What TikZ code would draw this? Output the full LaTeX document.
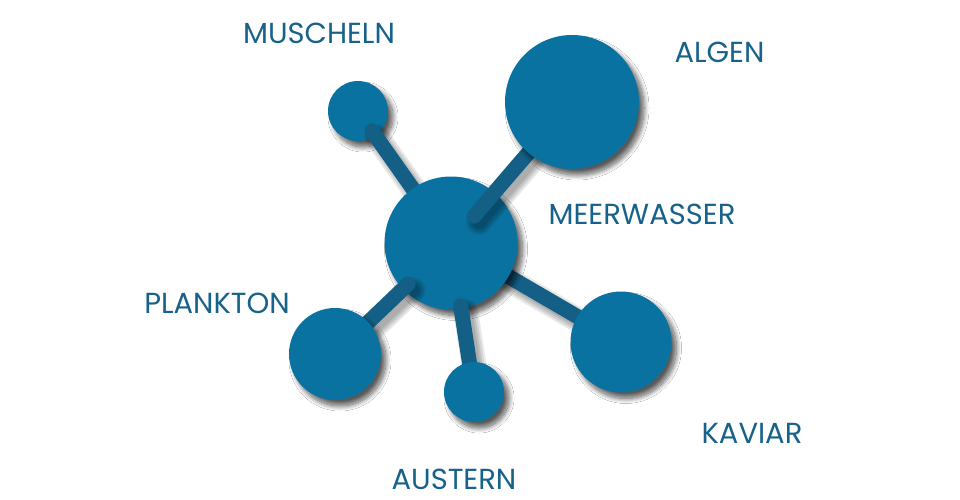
\documentclass[tikz,border=0pt]{standalone}
\usepackage{fontspec}
\setmainfont{Poppins}
\usetikzlibrary{shadows.blur,calc}
\definecolor{bubblecol}{HTML}{0A72A0}
\definecolor{linkcol}{HTML}{135F86}
\definecolor{labelcol}{HTML}{17628A}
\tikzset{
  bubble/.style={circle,fill=bubblecol,draw=none,inner sep=0pt,outer sep=0pt,
    blur shadow={shadow xshift=5pt,shadow yshift=-6pt,shadow blur radius=5pt,shadow blur steps=12,shadow opacity=65}},
  link/.style={draw=linkcol,line width=15pt,line cap=round},
  linkshadow/.style={draw=black,line cap=round,opacity=0.09,line width=#1},
  lbl/.style={text=labelcol,inner sep=0pt,font=\fontsize{29}{32}\selectfont}
}
\newcommand{\shadowline}[2]{%
  \foreach \w in {13,17,21,25}{\draw[linkshadow=\w pt,transform canvas={shift={(5pt,-6pt)}}] #1 -- #2;}%
}
\begin{document}
\begin{tikzpicture}[x=1pt,y=-1pt]
\useasboundingbox[fill=white] (0,0) rectangle (960,500);
\coordinate (cC) at (451,243);
\coordinate (cM) at (358,111);
\coordinate (cA) at (572,102);
\coordinate (cP) at (335,354);
\coordinate (cU) at (474,392);
\coordinate (cK) at (621,342);
% kaviar link (under everything)
\shadowline{(cC)}{(cK)}
\draw[link] (cC) -- (cK);
% muscheln circle and its link
\node[bubble,minimum size=60] (muscheln) at (cM) {};
\shadowline{($(cM)!0.15!(cC)$)}{(cC)}
\draw[link] ($(muscheln.center)!0.15!(cC)$) -- (cC);
% central circle
\node[bubble,minimum size=133] (center) at (cC) {};
% links on top of centre
\shadowline{($(cC)!0.19!(cA)$)}{(cA)}
\draw[link] ($(center.center)!0.19!(cA)$) -- (cA);
\shadowline{($(cC)!0.37!(cP)$)}{(cP)}
\draw[link] ($(center.center)!0.37!(cP)$) -- (cP);
\shadowline{($(cC)!0.42!(cU)$)}{(cU)}
\draw[link] ($(center.center)!0.42!(cU)$) -- (cU);
% outer circles
\node[bubble,minimum size=134] (algen) at (cA) {};
\node[bubble,minimum size=92] (plankton) at (cP) {};
\node[bubble,minimum size=60] (austern) at (cU) {};
\node[bubble,minimum size=101] (kaviar) at (cK) {};
% labels
\node[lbl] (tM) at (319,33.5) {MUSCHELN};
\node[lbl] (tA) at (719.5,52.5) {ALGEN};
\node[lbl] (tW) at (642,214) {MEERWASSER};
\node[lbl] (tP) at (217,303.5) {PLANKTON};
\node[lbl] (tK) at (752,433) {KAVIAR};
\node[lbl] (tU) at (454,479) {AUSTERN};
\end{tikzpicture}
\end{document}
